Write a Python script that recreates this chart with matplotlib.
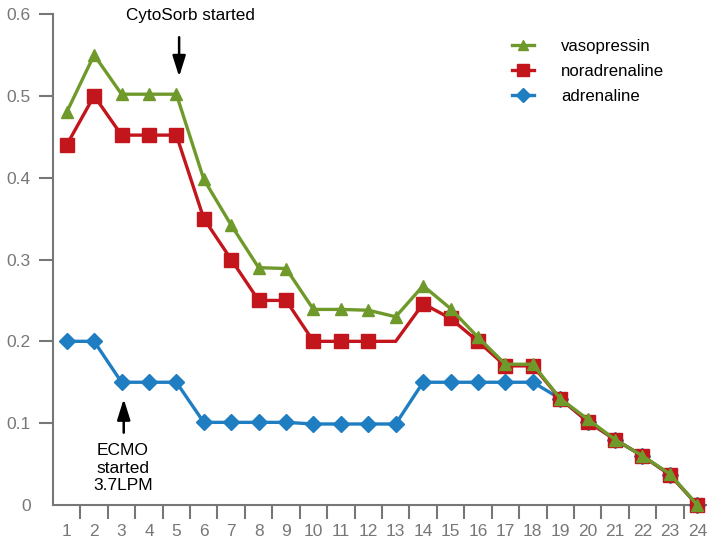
import matplotlib
matplotlib.use("Agg")
import matplotlib.pyplot as plt
import numpy as np

plt.rcParams['font.family'] = ['Liberation Sans', 'DejaVu Sans']

days = list(range(1, 25))
vasopressin = [0.48, 0.55, 0.502, 0.502, 0.502, 0.398, 0.342, 0.29, 0.289, 0.239, 0.239, 0.238, 0.23,
               0.268, 0.24, 0.205, 0.172, 0.172, 0.13, 0.105, 0.08, 0.06, 0.038, 0.0]
noradrenaline = [0.44, 0.50, 0.452, 0.452, 0.452, 0.35, 0.30, 0.25, 0.25, 0.20, 0.20, 0.20, 0.20,
                 0.246, 0.228, 0.20, 0.17, 0.17, 0.13, 0.102, 0.08, 0.06, 0.037, 0.0]
adrenaline = [0.20, 0.20, 0.15, 0.15, 0.15, 0.101, 0.101, 0.101, 0.101, 0.099, 0.099, 0.099, 0.099,
              0.15, 0.15, 0.15, 0.15, 0.15, 0.13, 0.102, 0.08, 0.06, 0.037, 0.0]
yticks = [0, 0.1, 0.2, 0.3, 0.4, 0.5, 0.6]
ytick_labels = ['0', '0.1', '0.2', '0.3', '0.4', '0.5', '0.6']

green = '#6f9a2b'
red = '#c3161c'
blue = '#1f7dc1'
grey = '#777777'

fig = plt.figure(figsize=(7.07, 5.38), dpi=100)
ax = fig.add_axes([53/707, 33/538, 658/707, 491/538])

ax.plot(days, adrenaline, color=blue, lw=2.4, marker='D', ms=8.5, label='adrenaline', clip_on=False, zorder=3)
nor_marks = [i for i in range(24) if i != 12]
ax.plot(days, noradrenaline, color=red, lw=2.4, marker='s', ms=9.5, markevery=nor_marks,
        label='noradrenaline', clip_on=False, zorder=4)
ax.plot(days, vasopressin, color=green, lw=2.4, marker='^', ms=9, label='vasopressin', clip_on=False, zorder=5)

ax.set_xlim(0.5, 24.5)
ax.set_ylim(0, 0.6)
for s in ['top', 'right']:
    ax.spines[s].set_visible(False)
for s in ['left', 'bottom']:
    ax.spines[s].set_color(grey)
    ax.spines[s].set_linewidth(1.5)

ax.set_xticks(days)
ax.set_xticklabels([str(d) for d in days])
ax.set_xticks(np.arange(1.5, 24.5, 1), minor=True)
ax.tick_params(axis='x', which='major', length=0, pad=14, labelsize=12.5, labelcolor=grey)
ax.tick_params(axis='x', which='minor', length=10, width=1.5, color=grey)
ax.set_yticks(yticks)
ax.set_yticklabels(ytick_labels)
ax.tick_params(axis='y', length=10, width=1.5, color=grey, labelsize=12.5, labelcolor=grey, pad=6)
ax.yaxis.get_major_ticks()[0].tick1line.set_visible(False)

ax.annotate('', xy=(5.1, 0.52), xytext=(5.1, 0.575),
            arrowprops=dict(arrowstyle='-|>,head_length=0.7,head_width=0.22', color='black', lw=1.8, mutation_scale=18))
ax.text(5.5, 0.598, 'CytoSorb started', ha='center', va='center', fontsize=12.3)
ax.annotate('', xy=(3.08, 0.133), xytext=(3.08, 0.085),
            arrowprops=dict(arrowstyle='-|>,head_length=0.7,head_width=0.22', color='black', lw=1.8, mutation_scale=18))
ax.text(3.05, 0.045, 'ECMO\nstarted\n3.7LPM', ha='center', va='center', fontsize=12.5, linespacing=1.2)

h, l = ax.get_legend_handles_labels()
order = [2, 1, 0]
ax.legend([h[i] for i in order], [l[i] for i in order], loc='upper left', bbox_to_anchor=(0.675, 0.98),
          frameon=False, fontsize=12.1, handlelength=1.3, handletextpad=1.6, labelspacing=0.6,
          markerscale=0.85)

fig.savefig('out.png', dpi=100)
